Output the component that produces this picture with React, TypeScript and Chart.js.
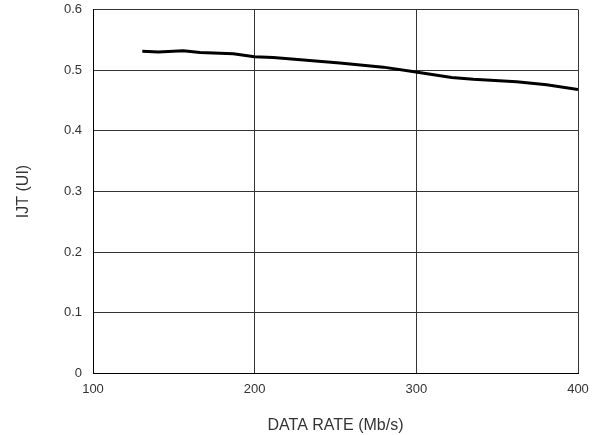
import React, { useEffect, useRef } from "react";
import { Chart, registerables } from "chart.js";

Chart.register(...registerables);

const dataRate = [130.5, 140.4, 155.8, 166.2, 186.8, 199.8, 211.5, 252.7, 279.5, 299.7, 321.8, 335.2, 362, 380.6, 400];
const ijt = [0.531, 0.530, 0.532, 0.529, 0.527, 0.522, 0.521, 0.512, 0.505, 0.497, 0.488, 0.485, 0.481, 0.476, 0.468];
const xTicks = [100, 200, 300, 400];
const yTicks = [0, 0.1, 0.2, 0.3, 0.4, 0.5, 0.6];

export default function App() {
  const ref = useRef<HTMLCanvasElement | null>(null);
  useEffect(() => {
    document.body.style.margin = "0";
    const ctx = ref.current!;
    const font = { family: "'Liberation Sans', Arial, sans-serif", size: 13 };
    const chart = new Chart(ctx, {
      type: "line",
      data: {
        datasets: [
          {
            data: dataRate.map((x, i) => ({ x, y: ijt[i] })),
            borderColor: "#000",
            borderWidth: 3,
            pointRadius: 0,
            tension: 0,
            fill: false,
          },
        ],
      },
      options: {
        animation: false,
        responsive: false,
        devicePixelRatio: 1,
        layout: { padding: { top: 9.5, right: 23, left: 0, bottom: 0 } },
        plugins: { legend: { display: false }, tooltip: { enabled: false } },
        scales: {
          x: {
            type: "linear",
            min: 100,
            max: 400,
            afterBuildTicks: (s: any) => {
              s.ticks = xTicks.map((v) => ({ value: v }));
            },
            afterFit: (s: any) => {
              s.height = 61.5;
              s.paddingLeft = 0;
              s.paddingRight = 0;
            },
            grid: { color: "#333", lineWidth: 1, drawTicks: false },
            border: { color: "#000", width: 1 },
            ticks: { font, color: "#333", padding: 8, maxRotation: 0 },
            title: {
              display: true,
              text: "DATA RATE (Mb/s)",
              font: { family: font.family, size: 16 },
              color: "#333",
              padding: { top: 17, bottom: 0 },
            },
          },
          y: {
            type: "linear",
            min: 0,
            max: 0.6,
            afterBuildTicks: (s: any) => {
              s.ticks = yTicks.map((v) => ({ value: v }));
            },
            afterFit: (s: any) => {
              s.width = 93;
              s.paddingTop = 0;
              s.paddingBottom = 0;
            },
            grid: { color: "#333", lineWidth: 1, drawTicks: false },
            border: { color: "#000", width: 1 },
            ticks: {
              font,
              color: "#333",
              padding: 11,
              callback: (v: any) => (v === 0 ? "0" : Number(v).toFixed(1)),
            },
            title: {
              display: true,
              text: "IJT (UI)",
              font: { family: font.family, size: 16 },
              color: "#333",
              padding: { top: 14, bottom: 0 },
            },
          },
        },
      },
    });
    return () => chart.destroy();
  }, []);
  return (
    <div style={{ width: 601, height: 435 }}>
      <canvas ref={ref} width={601} height={435} style={{ display: "block" }} />
    </div>
  );
}
